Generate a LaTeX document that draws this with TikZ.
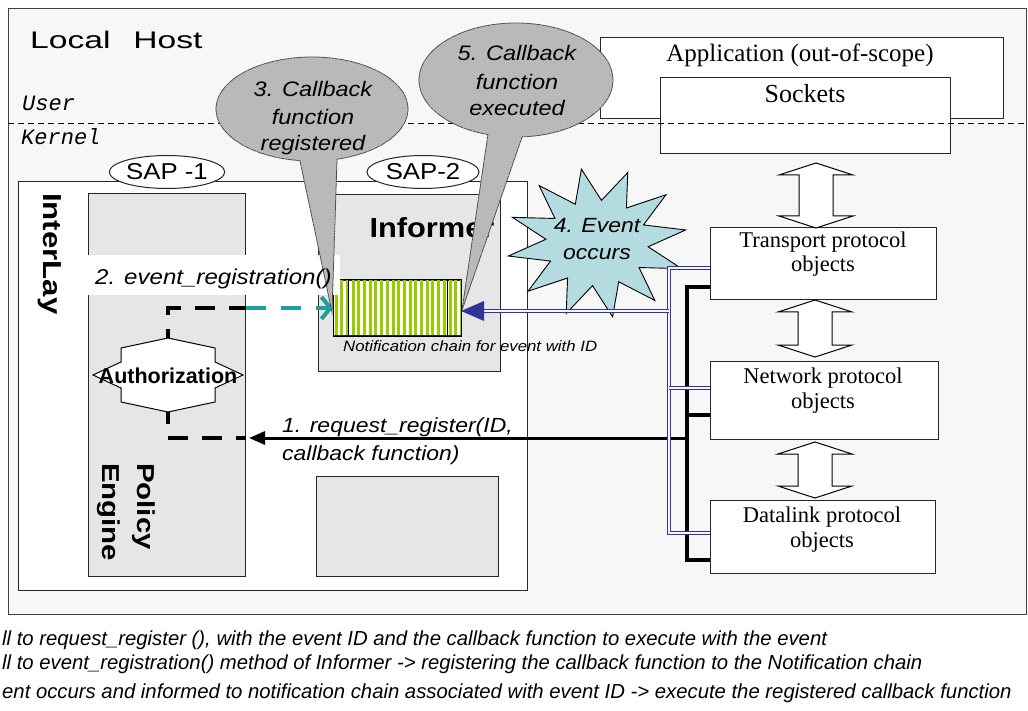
\documentclass[tikz,border=0pt]{standalone}
\usepackage{fontspec}
\usepackage{graphicx}
\usetikzlibrary{arrows.meta,calc,shapes.geometric,patterns}

\newfontfamily\sfw[FakeStretch=1.12]{Liberation Sans}
\newfontfamily\sfb[FakeStretch=1.2]{Liberation Sans}
\newfontfamily\sfn{Liberation Sans}
\newfontfamily\monoit{Liberation Mono}
\newfontfamily\serf{Liberation Serif}

\definecolor{hostbg}{HTML}{F7F7F7}
\definecolor{panel}{HTML}{E6E6E6}
\definecolor{chaingreen}{HTML}{99CC00}
\definecolor{navy}{HTML}{333399}
\definecolor{tealc}{HTML}{1E9E9E}
\definecolor{starfill}{HTML}{B4DCE0}
\definecolor{bubblefill}{HTML}{B8B8B8}

\tikzset{
  box/.style={draw=black!85, line width=1pt, inner sep=0pt, anchor=north west},
  lbl/.style={inner sep=0pt, anchor=base},
  serif/.style={font=\serf\fontsize{22.5}{22.5}\selectfont},
  bubble/.style={draw=black!70, line width=0.8pt, fill=bubblefill,
    postaction={pattern=crosshatch dots, pattern color=black!25}},
  bubtext/.style={lbl, font=\sfw\itshape\fontsize{21}{21}\selectfont},
  blueline/.style={draw=navy, double=hostbg, double distance=2.2pt, line width=0.8pt},
  blackdash/.style={line width=4pt, dash pattern=on 20pt off 14pt},
  footer/.style={lbl, anchor=base west, font=\sfn\itshape\fontsize{20.3}{20.3}\selectfont},
  pics/dblarrow/.style={code={
    \draw[line width=1pt, fill=white] (0,0) -- (37,12) -- (17,12) -- (17,#1-12)
      -- (37,#1-12) -- (0,#1) -- (-37,#1-12) -- (-17,#1-12) -- (-17,12) -- (-37,12) -- cycle;
  }}
}

\begin{document}
\begin{tikzpicture}[x=1pt, y=-1pt]
\useasboundingbox (0,0) rectangle (1028,711);
\fill[white] (0,0) rectangle (1028,711);

% host frame
\node[box, fill=hostbg, draw=black!75, minimum width=1018, minimum height=606] (host) at (8,8) {};
\node[lbl, anchor=base west, font=\sfn\fontsize{24}{24}\selectfont] (lh) at (30,49)
  {\scalebox{1.4}[1]{Local\hspace{0.68em}Host}};

% user space
\node[box, fill=white, minimum width=403, minimum height=81] (app) at (600,37) {};
\node[lbl, font=\serf\fontsize{25}{25}\selectfont] (apptxt) at (800,62) {Application (out-of-scope)};
\node[box, fill=white, minimum width=290, minimum height=76] (sock) at (660,77) {};
\node[lbl, font=\serf\fontsize{26}{26}\selectfont] (socktxt) at (805,103) {Sockets};

% user / kernel boundary
\coordinate (uk) at (0,123);
\draw[line width=0.8pt, dash pattern=on 6pt off 4pt] (host.west |- uk) -- (host.east |- uk);
\node[lbl, anchor=base west, font=\monoit\itshape\fontsize{22}{22}\selectfont] (user) at (22,111) {User};
\node[lbl, anchor=base west, font=\monoit\itshape\fontsize{22}{22}\selectfont] (kern) at (21,145) {Kernel};

% protocol stack
\node[box, fill=white, minimum width=226, minimum height=72] (trans) at (710,227) {};
\node[box, fill=white, minimum width=228, minimum height=78] (net) at (710,361) {};
\node[box, fill=white, minimum width=225, minimum height=73] (dlink) at (710,500) {};
\node[lbl, serif] (tr1) at (823,248) {Transport protocol};
\node[lbl, serif] (tr2) at (823,272) {objects};
\node[lbl, serif] (nw1) at (823,383) {Network protocol};
\node[lbl, serif] (nw2) at (823,408) {objects};
\node[lbl, serif] (dl1) at (822,522) {Datalink protocol};
\node[lbl, serif] (dl2) at (822,547) {objects};

\pic at (816,163) {dblarrow=65};
\pic at (815,300) {dblarrow=57};
\pic at (815,442) {dblarrow=56};

% InterLay block
\node[box, fill=white, minimum width=509, minimum height=409] (inter) at (18,181) {};
\node[ellipse, draw=black!85, line width=1pt, fill=white, minimum width=110, minimum height=33,
  inner sep=0pt, font=\sfw\fontsize{23}{23}\selectfont] (sap1) at (167,172) {SAP -1};
\node[ellipse, draw=black!85, line width=1pt, fill=white, minimum width=112, minimum height=33,
  inner sep=0pt, font=\sfw\fontsize{23}{23}\selectfont] (sap2) at (423,172) {SAP-2};
\node[box, fill=panel, minimum width=157, minimum height=383] (policy) at (88,193) {};
\node[box, fill=panel, minimum width=182, minimum height=177] (informer) at (318,194) {};
\node[box, fill=panel, minimum width=182, minimum height=100] (lower) at (316,476) {};

\node[rotate=-90, anchor=base west, inner sep=0pt, font=\sfb\bfseries\fontsize{26}{26}\selectfont] (il) at (43,193) {InterLay};
\node[rotate=-90, anchor=base west, inner sep=0pt, font=\sfb\bfseries\fontsize{24.5}{24.5}\selectfont] (pol1) at (137,463) {Policy};
\node[rotate=-90, anchor=base west, inner sep=0pt, font=\sfb\bfseries\fontsize{24.5}{24.5}\selectfont] (pol2) at (102,463) {Engine};
\node[lbl, font=\sfw\bfseries\fontsize{27.5}{27.5}\selectfont] (inftxt) at (432,238) {Informer};

% notification chain
\node[box, fill=white, minimum width=127, minimum height=55] (chain) at (333,280) {};
\begin{scope}
  \clip (chain.north west) rectangle (chain.south east);
  \foreach \i in {0,...,22}
    \fill[chaingreen] ($(chain.north west)+(1.5+\i*5.7,0)$) rectangle ++(3,55);
\end{scope}
\draw[line width=1pt] (chain.north west) rectangle (chain.south east);
\draw[line width=1pt] ($(chain.north west)+(15,0)$) -- ($(chain.south west)+(15,0)$);
\draw[line width=1pt] ($(chain.north west)+(114,0)$) -- ($(chain.south west)+(114,0)$);
\node[lbl, anchor=base west, font=\sfw\itshape\fontsize{15}{15}\selectfont] (chaintxt) at (343,351)
  {Notification chain for event with ID};

% event burst
\coordinate (evt) at (597,243);
\draw[line width=0.9pt, fill=starfill, shift={(evt)}]
  plot[samples at={0,...,23}, variable=\k]
  ({ifthenelse(mod(\k,2)==0,1,0.57)*90*cos(\k*15-70)}, {ifthenelse(mod(\k,2)==0,1,0.57)*75*sin(\k*15-70)}) -- cycle;
\node[bubtext, font=\sfw\itshape\fontsize{20.5}{20.5}\selectfont] (ev1) at (597,233) {4. Event};
\node[bubtext, font=\sfw\itshape\fontsize{20.5}{20.5}\selectfont] (ev2) at (597,260) {occurs};

% kernel bus towards the protocol objects
\draw[line width=4pt] ($(trans.north west)+(0,60)$) -- ++(-23,0)
  -- ($(dlink.north west)+(-23,60)$) -- ($(dlink.north west)+(0,60)$);
\draw[line width=4pt] ($(net.north west)+(0,54)$) -- ++(-23,0);
\coordinate (rq) at ($(net.north west)+(-25,77)$);
\draw[line width=3pt, -{Triangle[length=16pt,width=13pt]}] (rq) -- ([xshift=3pt]rq -| policy.east);

% event notification path
\draw[blueline] ($(trans.north west)+(0,41)$) -- ++(-41,0)
  -- ($(dlink.north west)+(-41,33)$) -- ($(dlink.north west)+(0,33)$);
\draw[blueline] ($(net.north west)+(0,27)$) -- ++(-41,0);
\coordinate (ce) at ([yshift=-3pt]chain.east);
\coordinate (bv) at ($(trans.north west)+(-41,0)$);
\draw[blueline] (ce -| bv) -- ([xshift=20pt]ce);
\fill[navy] (ce) -- ++(23,-10) -- ++(0,20) -- cycle;

% authorization
\coordinate (auth) at (168,375);
\draw[line width=1pt, fill=white, shift={(auth)}] (0,-37) -- (47,-27) -- (47,-13) -- (75,0) -- (47,13)
  -- (47,27) -- (0,37) -- (-47,27) -- (-47,13) -- (-75,0) -- (-47,-13) -- (-47,-27) -- cycle;
\coordinate (authN) at ($(auth)+(0,-37)$);
\coordinate (authS) at ($(auth)+(0,37)$);
\node[lbl, font=\sfn\bfseries\fontsize{21.5}{21.5}\selectfont] (authtxt) at (168,383) {Authorization};

\coordinate (dr) at (policy.east |- chain.west);
\draw[blackdash, dash phase=11pt] (authN) -- (authN |- dr) -- (dr);
\draw[tealc, line width=4pt, dash pattern=on 20pt off 15pt, -{Straight Barb[length=9pt,width=22pt]}]
  (dr) -- (chain.west);
\draw[blackdash, dash phase=8pt] (authS) -- (authS |- rq) -- (policy.east |- rq);

% label of step 2
\node[fill=white, inner sep=0pt, anchor=north west, minimum width=252, minimum height=40] (evregbg) at (88,255) {};

% call-out bubbles
\coordinate (b3c) at (312,109);
\coordinate (tip3) at (332,312);
\draw[bubble] ($(b3c)+(74.9:96 and 52)$) arc[start angle=74.9, end angle=-262.8, x radius=96, y radius=52]
  -- (tip3) -- cycle;
\coordinate (b5c) at (516,80);
\coordinate (tip5) at (462,310);
\draw[bubble] ($(b5c)+(86.4:97 and 57)$) arc[start angle=86.4, end angle=-253.2, x radius=97, y radius=57]
  -- (tip5) -- cycle;
\node[bubtext] (b3a) at (313,97) {3. Callback};
\node[bubtext] (b3b) at (313,125) {function};
\node[bubtext] (b3d) at (313,151) {registered};
\node[bubtext] (b5a) at (517,61) {5. Callback};
\node[bubtext] (b5b) at (517,90) {function};
\node[bubtext] (b5d) at (517,116) {executed};

% call labels
\node[lbl, anchor=base west, font=\sfw\itshape\fontsize{21.5}{21.5}\selectfont] (evreg) at (95,285) {2. event\_registration()};
\node[lbl, anchor=base west, font=\sfw\itshape\fontsize{20.5}{20.5}\selectfont] (rq1) at (282,432) {1. request\_register(ID,};
\node[lbl, anchor=base west, font=\sfw\itshape\fontsize{20.5}{20.5}\selectfont] (rq2) at (282,460) {callback function)};

% footnotes
\node[footer] (f1) at (2,645) {ll to request\_register (), with the event ID and the callback function to execute with the event};
\node[footer] (f2) at (2,669) {ll to event\_registration() method of Informer -> registering the callback function to the Notification chain};
\node[footer] (f3) at (2,698) {ent occurs and informed to notification chain associated with event ID -> execute the registered callback function};
\end{tikzpicture}
\end{document}
